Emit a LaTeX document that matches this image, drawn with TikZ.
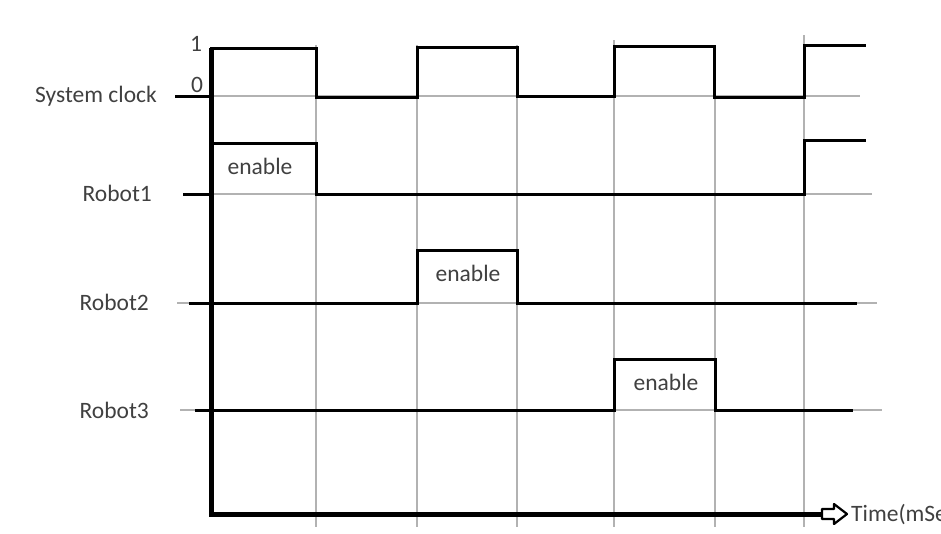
\documentclass[tikz,border=0pt]{standalone}
\usepackage{fontspec}
\setmainfont{Carlito}
\begin{document}
\begin{tikzpicture}[x=1pt,y=-1pt,
  grid/.style={gray!60, line width=1.6pt},
  sig/.style={black, line width=3pt, line join=miter},
  axis/.style={black, line width=5pt},
  lbl/.style={font=\fontsize{23.5}{26}\selectfont, text=black!75, inner sep=0pt},
]
\useasboundingbox (0,0) rectangle (941,533);
\clip (0,0) rectangle (941,533);
% grid
\draw[grid] (175,96) -- (860,96);
\draw[grid] (183,194) -- (872,194);
\draw[grid] (177,303) -- (877,303);
\draw[grid] (180,410) -- (882,410);
\draw[grid] (316,45) -- (316,527);
\draw[grid] (417,45) -- (417,527);
\draw[grid] (517,45) -- (517,527);
\draw[grid] (614,40) -- (614,527);
\draw[grid] (715,45) -- (715,527);
\draw[grid] (804,35) -- (804,527);
% signals
\draw[sig] (175,96) -- (211,96) |- (316,48) |- (417,97) |- (517,47) |- (614,96) |- (714,46) |- (804,97) |- (866,45);
\draw[sig] (183,194) -- (211,194) |- (316,143) |- (804,194) |- (866,140);
\draw[sig] (189,303) -- (417,303) |- (517,250) |- (857,303);
\draw[sig] (195,410) -- (614,410) |- (715,359) |- (853,410);
% axes
\draw[axis] (211,48) |- (824,514);
\draw[black, line width=2.2pt, fill=white, line join=round] (822,509) -- (834,509) -- (834,504) -- (847,514) -- (834,524) -- (834,519) -- (822,519) -- cycle;
% labels
\node[lbl, anchor=east] (sc) at (157,96) {System clock};
\node[lbl, anchor=east] (r1) at (152,193) {Robot1};
\node[lbl, anchor=east] (r2) at (149,302) {Robot2};
\node[lbl, anchor=east] (r3) at (149,410) {Robot3};
\node[lbl] (one) at (196,44) {1};
\node[lbl] (zero) at (197,85) {0};
\node[lbl] (e1) at (260,166) {enable};
\node[lbl] (e2) at (468,273) {enable};
\node[lbl] (e3) at (666,382) {enable};
\node[lbl, anchor=west] (tm) at (851,515) {Time(mSec)};
\end{tikzpicture}
\end{document}
